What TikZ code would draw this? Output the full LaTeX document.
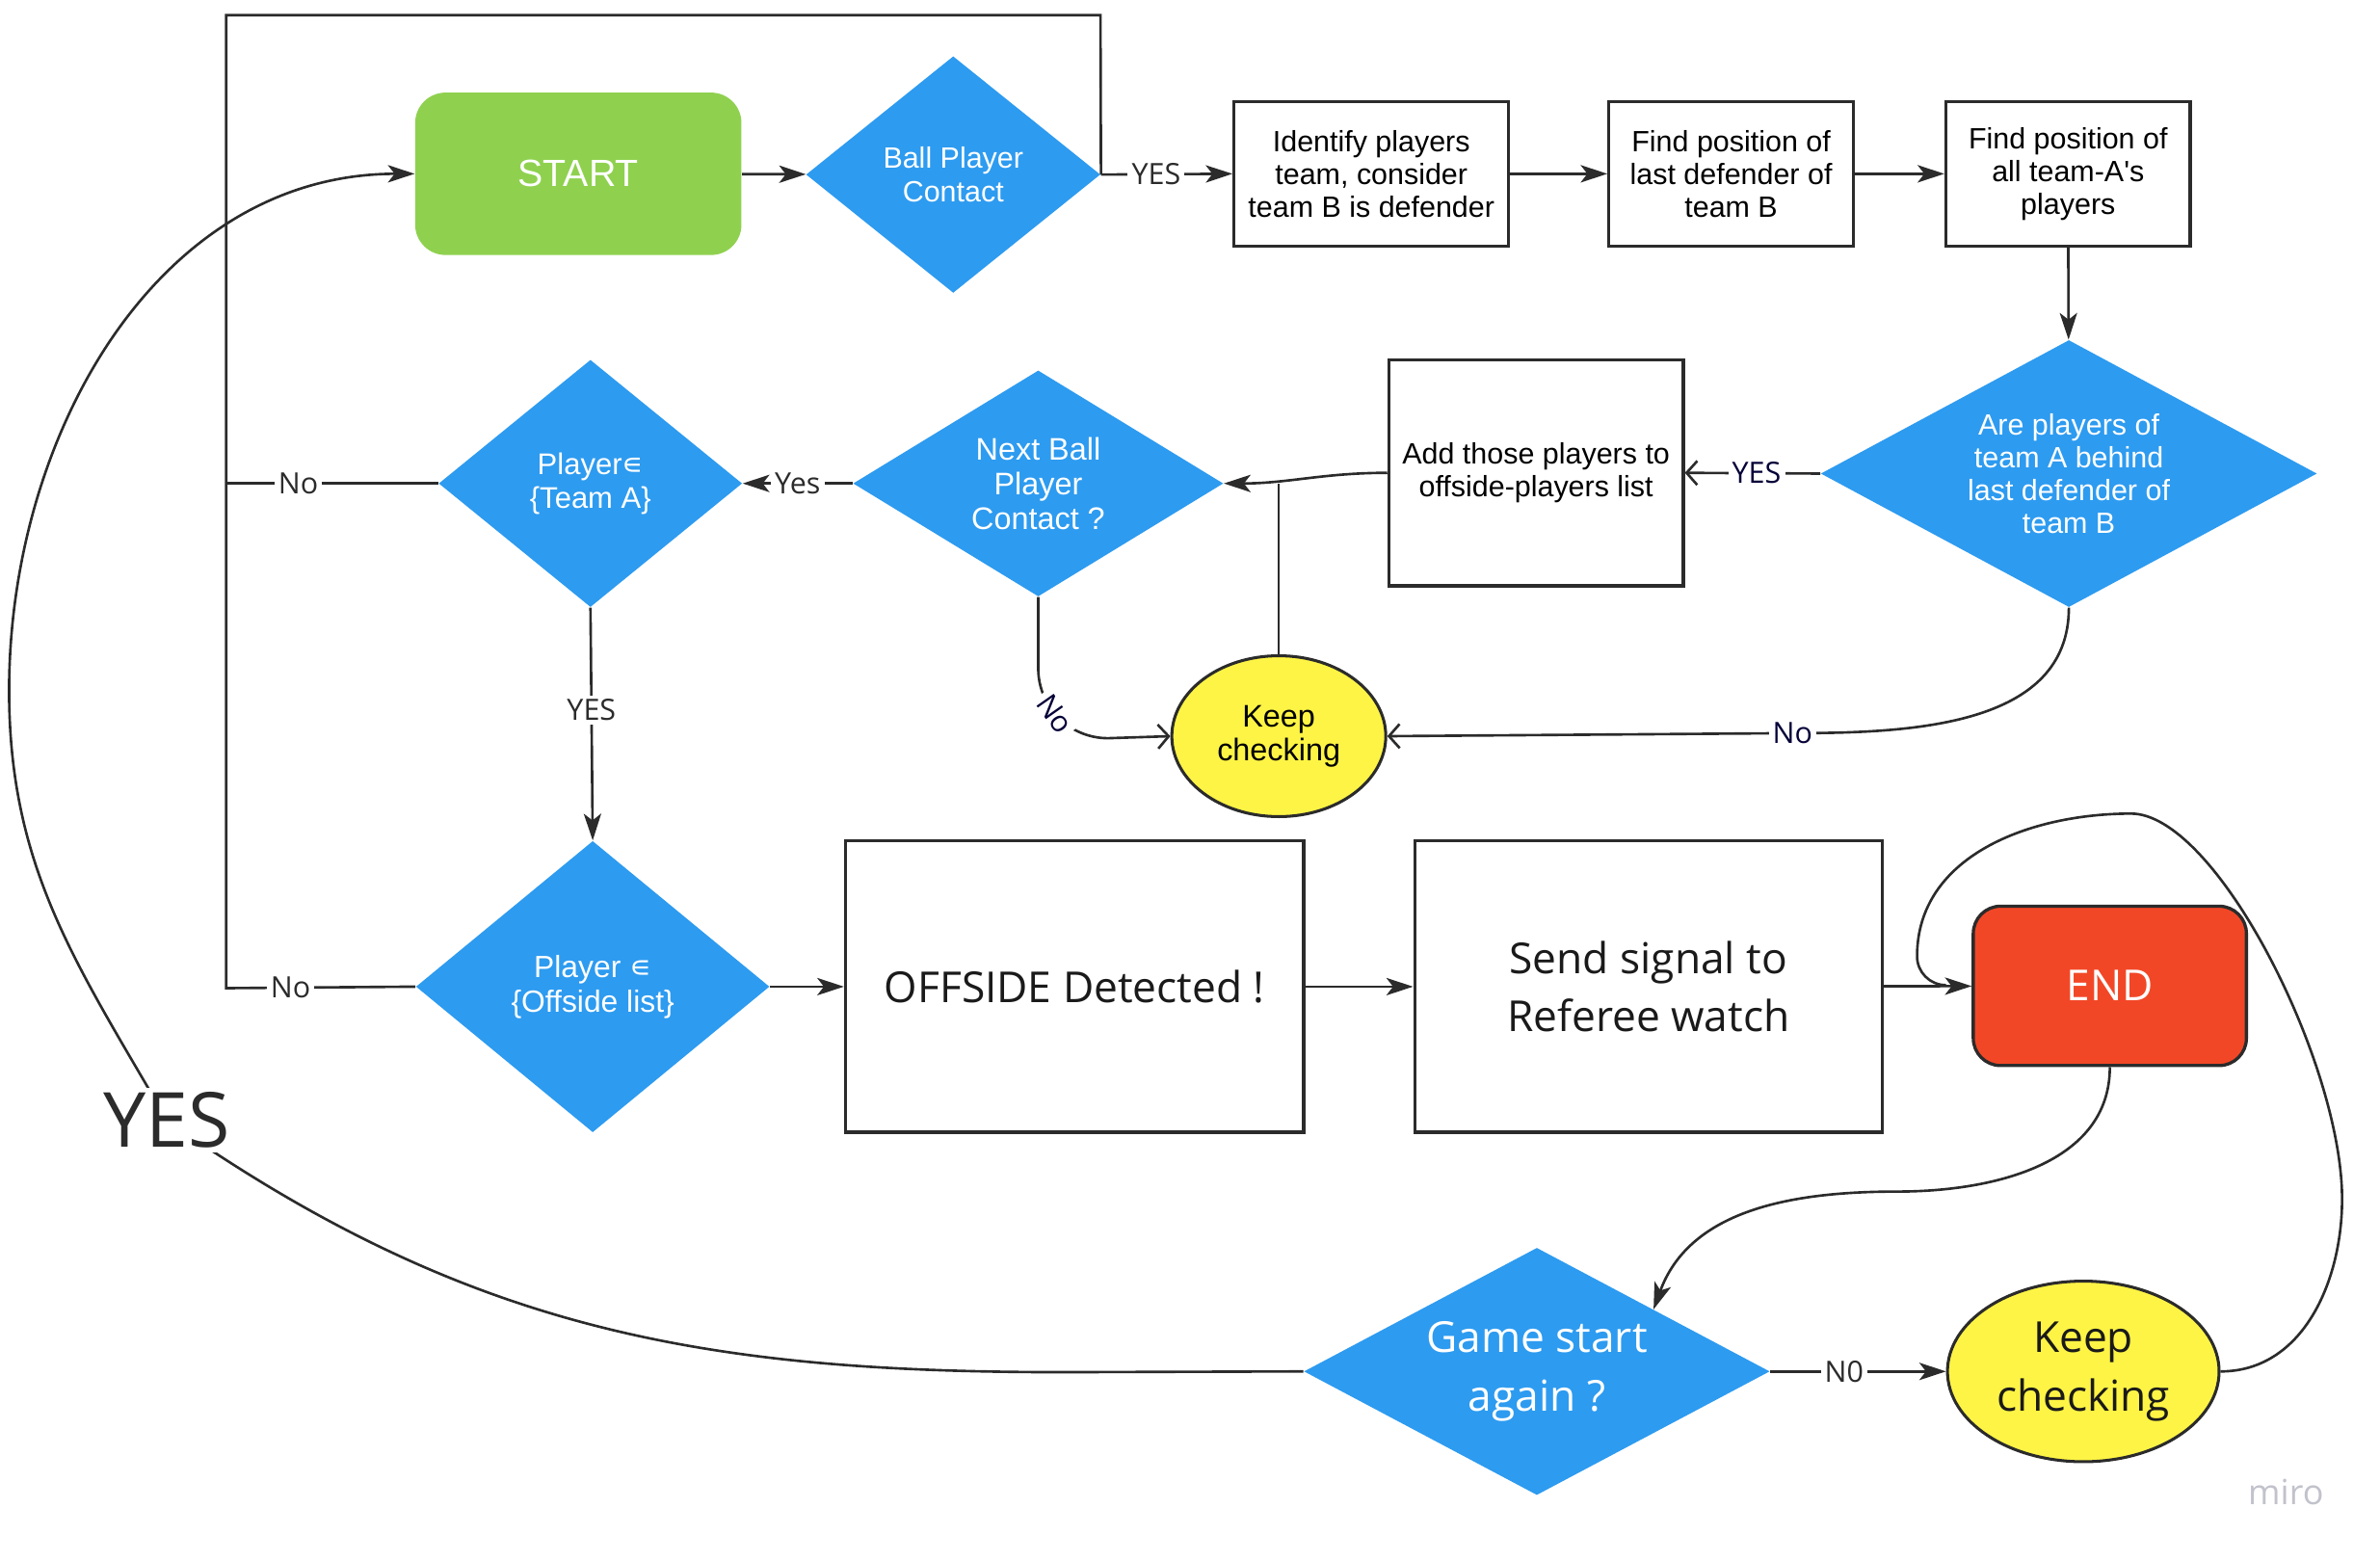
\documentclass[tikz,border=0pt]{standalone}
\usepackage{fontspec}
\setmainfont{Liberation Sans}
\newfontfamily\opensans{Open Sans}
\newfontfamily\symsans{DejaVu Sans}
\usetikzlibrary{arrows.meta,shapes.geometric,calc}

\definecolor{miroblue}{HTML}{2D9BF0}
\definecolor{mirogreen}{HTML}{8FD14F}
\definecolor{miroyellow}{HTML}{FEF445}
\definecolor{mirored}{HTML}{F24726}
\definecolor{lineclr}{HTML}{2B2B2B}
\definecolor{navy}{HTML}{050038}
\definecolor{bigtext}{HTML}{1A1A1A}
\definecolor{watermark}{HTML}{C2C2CC}

\tikzset{
  procbox/.style={draw=lineclr, line width=1.2pt, fill=white, inner sep=0pt, align=center,
    font=\fontsize{11}{12.3}\selectfont},
  bigbox/.style={procbox, text=bigtext, font=\opensans\fontsize{16}{22}\selectfont},
  decision/.style={diamond, fill=miroblue, text=white, inner sep=0pt, align=center,
    font=\fontsize{11}{12.4}\selectfont},
  terminal/.style={rounded corners=0.4cm, inner sep=0pt, align=center, text=white},
  waitstate/.style={ellipse, draw=lineclr, line width=1.1pt, fill=miroyellow, inner sep=0pt,
    align=center},
  lbl/.style={fill=white, inner sep=1.5pt, text=lineclr, font=\opensans\fontsize{11}{13}\selectfont},
  conn/.style={draw=lineclr, line width=0.95pt},
  flow/.style={conn, -{Stealth[length=10pt,width=6.5pt,inset=2.5pt]}},
  openflow/.style={conn, -{Straight Barb[length=4pt,width=9pt]}},
}

\begin{document}
\begin{tikzpicture}[x=0.02cm, y=0.02cm]
  \useasboundingbox (0,0) rectangle (1568,-1028);
  % Top row
  \node[terminal, fill=mirogreen, minimum width=4.3cm, minimum height=2.14cm,
    font=\fontsize{14.2}{16}\selectfont] (start) at (381,-114.5) {START};
  \node[decision, minimum width=3.88cm, minimum height=3.12cm, shape aspect=1.24]
    (ball) at (628,-115) {Ball Player\\Contact};
  \node[procbox, minimum width=3.62cm, minimum height=1.9cm] (identify) at (903.5,-114.5)
    {Identify players\\team, consider\\team B is defender};
  \node[procbox, minimum width=3.22cm, minimum height=1.9cm] (lastdef) at (1140.5,-114.5)
    {Find position of\\last defender of\\team B};
  \node[procbox, minimum width=3.22cm, minimum height=1.9cm] (allteamA) at (1362.5,-114.5)
    {Find position of\\all team-A\textquotesingle s\\players};
  % Middle row
  \node[decision, minimum width=6.54cm, minimum height=3.52cm, shape aspect=1.86,
    font=\fontsize{11}{12.3}\selectfont] (behind) at (1363,-312)
    {Are players of\\team A behind\\last defender of\\team B};
  \node[procbox, minimum width=3.88cm, minimum height=2.98cm] (addlist) at (1012,-311.5)
    {Add those players to\\offside-players list};
  \node[decision, minimum width=4.88cm, minimum height=2.98cm, shape aspect=1.64,
    font=\fontsize{11.7}{13}\selectfont] (nextball) at (684,-318.5) {Next Ball\\Player\\Contact ?};
  \node[decision, minimum width=4cm, minimum height=3.26cm, shape aspect=1.23,
    font=\fontsize{11.2}{12.5}\selectfont] (inteamA) at (389,-318.5)
    {Player{\symsans ∊}\\\{Team A\}};
  \node[waitstate, minimum width=2.82cm, minimum height=2.12cm,
    font=\fontsize{11.7}{12.5}\selectfont] (keepa) at (842.5,-485) {Keep\\checking};
  % Bottom row
  \node[decision, minimum width=4.66cm, minimum height=3.84cm, shape aspect=1.21,
    font=\fontsize{11.5}{13}\selectfont] (inofflist) at (390.5,-650)
    {Player {\symsans ∊}\\\{Offside list\}};
  \node[bigbox, minimum width=6.04cm, minimum height=3.84cm] (offside) at (708,-650)
    {OFFSIDE Detected !};
  \node[bigbox, minimum width=6.16cm, minimum height=3.84cm] (signal) at (1086,-650)
    {Send signal to\\Referee watch};
  \node[terminal, fill=mirored, draw=lineclr, line width=1.2pt, rounded corners=0.36cm,
    minimum width=3.6cm, minimum height=2.1cm, font=\opensans\fontsize{16}{18}\selectfont]
    (finish) at (1390,-649.5) {END};
  \node[decision, minimum width=6.14cm, minimum height=3.26cm, shape aspect=1.88,
    font=\opensans\fontsize{16}{22}\selectfont] (again) at (1012.5,-903.5) {Game start\\again ?};
  \node[waitstate, text=bigtext, minimum width=3.58cm, minimum height=2.38cm,
    font=\opensans\fontsize{16}{22}\selectfont] (keepb) at (1372.5,-903.5) {Keep\\checking};
  \node[text=watermark, font=\opensans\fontsize{13}{15}\selectfont] (miro) at (1506,-983) {miro};

  % Loop back to contact
  \coordinate (loopbot) at (149,-651);
  \coordinate (looptop) at (149,-10);
  \coordinate (loopright) at (725,-10);
  \coordinate (againne) at ($(again.north)!0.5!(again.east)$);
  \coordinate (merge) at (1282,-649);

  % Arrows
  \draw[flow] (start) -- (ball);
  \draw[flow] (ball.east) -- node[lbl, pos=0.42] {YES} (identify.west);
  \draw[flow] (identify) -- (lastdef);
  \draw[flow] (lastdef) -- (allteamA);
  \draw[flow] (allteamA) -- (behind);
  \draw[openflow] (behind.west) -- node[lbl, text=navy, pos=0.47] {YES} (addlist.east);
  \draw[flow] (addlist.west) to[out=180, in=0] (nextball.east);
  \draw[conn] (keepa.north) -- (keepa.north |- nextball.east);
  \draw[flow] (nextball.west) -- node[lbl, pos=0.5] {Yes} (inteamA.east);
  \draw[conn] (inteamA.west) -- node[lbl, pos=0.66] {No} (inteamA.west -| loopbot);
  \draw[flow] (inteamA.south) -- node[lbl, pos=0.44] {YES} (inofflist.north);
  \draw[conn] (inofflist.west) -- node[lbl, pos=0.66] {No} (loopbot) -- (looptop)
    -- (loopright) -- (ball.east);
  \draw[openflow] (nextball.south) -- ++(0,-47) to[out=-90, in=180]
    node[lbl, text=navy, rotate=-55, pos=0.45] {No} ++(46,-46) -- (keepa.west);
  \draw[openflow] (behind.south) to[out=-90, in=0] (1181,-483) node[lbl, text=navy] {No}
    -- (keepa.east);
  \draw[flow] (inofflist) -- (offside);
  \draw[flow] (offside) -- (signal);
  \draw[flow] (signal) -- (finish);
  \draw[flow] (finish.south) to[out=-90, in=0] (1250,-785) to[out=180, in=70] (againne);
  \draw[flow] (again.east) -- node[lbl, pos=0.42] {N0} (keepb.west);
  \draw[conn] (keepb.east) to[out=0, in=-90] (1543,-790)
    .. controls (1543,-700) and (1460,-536) .. (1404,-536)
    to[out=180, in=90] (1263,-630) to[out=-90, in=180] (merge);
  \draw[flow] (again.west) -- (700,-904) to[out=180, in=-35] (110,-738)
    node[lbl, font=\opensans\fontsize{28.5}{30}\selectfont] (yesbig) {YES}
    to[out=120, in=-90] (6,-455) to[out=90, in=180] (start.west);
\end{tikzpicture}
\end{document}
